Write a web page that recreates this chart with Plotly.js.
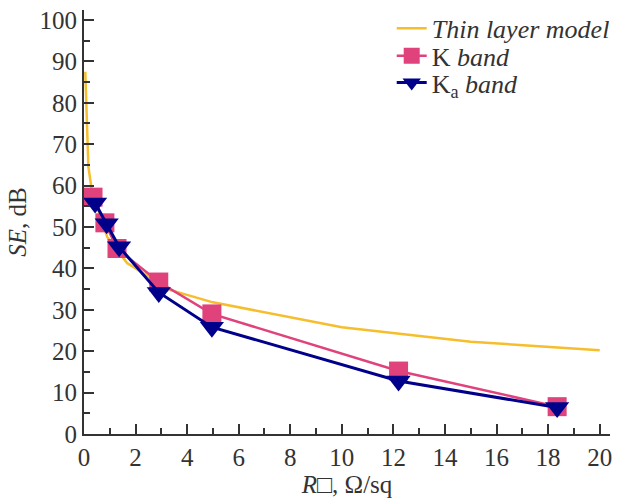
<!DOCTYPE html>
<html>
<head>
<meta charset="utf-8">
<script src="https://cdn.plot.ly/plotly-3.0.1.min.js"></script>
<style>html,body{margin:0;padding:0;background:#fff;}#chart{width:623px;height:499px;}</style>
</head>
<body>
<div id="chart"></div>
<script>
// Thin layer model curve
const modelR = [0.05, 0.17, 0.3, 0.5, 0.9, 1.67, 3.33, 5, 10, 15, 20];
const modelSE = [87.5, 64.5, 59, 55, 47.6, 41.3, 34.8, 31.8, 25.8, 22.3, 20.2];

// K band measurements
const kR = [0.35, 0.81, 1.28, 2.9, 4.96, 12.2, 18.35];
const kSE = [57.2, 51, 44.8, 36.7, 29.0, 15.2, 6.6];

// Ka band measurements
const kaR = [0.43, 0.88, 1.36, 2.9, 4.96, 12.2, 18.35];
const kaSE = [55.8, 50.8, 45.2, 34.2, 25.8, 12.8, 6.4];

const serif = '"Liberation Serif", "Times New Roman", Times, serif';
const txt = '#333';

const traces = [
  {x: modelR, y: modelSE, mode: 'lines', name: '<i>Thin layer model</i>', legend: 'legend',
   line: {color: '#F6BE2C', width: 2.5}},
  {x: kR, y: kSE, mode: 'lines+markers', name: 'K <i>band</i>', legend: 'legend2',
   line: {color: '#E0427C', width: 2.5},
   marker: {symbol: 'square', size: 19, color: '#E0427C'}},
  {x: kaR, y: kaSE, mode: 'lines+markers', name: 'K<sub>a</sub> <i>band</i>', legend: 'legend3',
   line: {color: '#00008B', width: 3},
   marker: {symbol: 'triangle-down', size: 21, color: '#00008B'}}
];

function leg(y) {
  return {x: 0.585, xanchor: 'left', y: y, yanchor: 'middle', bgcolor: 'rgba(0,0,0,0)',
          borderwidth: 0, font: {family: serif, size: 26, color: txt}, itemwidth: 30};
}

const layout = {
  width: 623, height: 499,
  margin: {l: 84, r: 13, t: 10, b: 65, autoexpand: false},
  paper_bgcolor: '#fff', plot_bgcolor: '#fff',
  font: {family: serif, size: 25, color: txt},
  showlegend: true,
  legend: leg(0.957),
  legend2: leg(0.892),
  legend3: leg(0.829),
  xaxis: {
    range: [0, 20.4], dtick: 2, tick0: 0, showgrid: false, zeroline: false,
    showline: true, linecolor: '#333', linewidth: 2,
    ticks: 'inside', ticklen: 10, tickwidth: 2, tickcolor: '#333',
    minor: {dtick: 1, ticks: 'inside', ticklen: 6, tickwidth: 2, tickcolor: '#333'},
    title: {text: '<i>R</i>□, Ω/sq', font: {family: serif, size: 25, color: txt}, standoff: 2},
    tickfont: {family: serif, size: 25, color: txt}
  },
  yaxis: {
    range: [0, 102.4], dtick: 10, tick0: 0, showgrid: false, zeroline: false,
    showline: true, linecolor: '#333', linewidth: 2,
    ticks: 'inside', ticklen: 10, tickwidth: 2, tickcolor: '#333',
    minor: {dtick: 5, ticks: 'inside', ticklen: 6, tickwidth: 2, tickcolor: '#333'},
    title: {text: '<i>SE</i>, dB', font: {family: serif, size: 25, color: txt}, standoff: 6},
    tickfont: {family: serif, size: 25, color: txt}
  }
};

Plotly.newPlot('chart', traces, layout, {displayModeBar: false, staticPlot: true});
</script>
</body>
</html>
